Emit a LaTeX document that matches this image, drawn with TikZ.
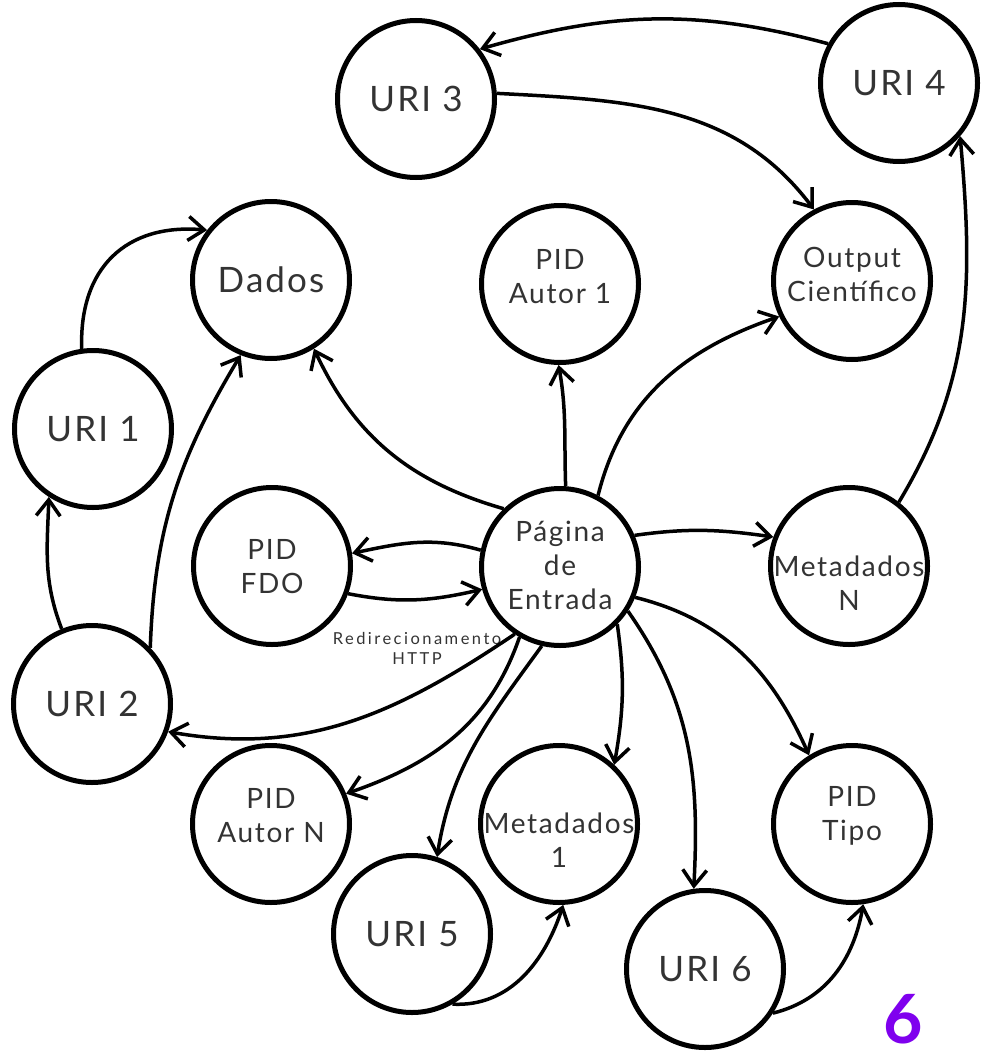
\documentclass[tikz,border=0pt]{standalone}
\usepackage{fontspec}
\setmainfont{Lato}[LetterSpace=6]
\newfontfamily\redirfont{Lato}[LetterSpace=15]
\usetikzlibrary{arrows.meta}
\definecolor{txtgray}{HTML}{333333}
\definecolor{purp}{HTML}{7F00EE}
\begin{document}
\begin{tikzpicture}[x=1pt,y=1pt,
  circ/.style={circle,draw=black,line width=5pt,minimum size=157pt,inner sep=0pt},
  big/.style={text=txtgray,font=\fontsize{35}{42}\selectfont},
  small/.style={text=txtgray,align=center,font=\fontsize{28}{34}\selectfont},
  link/.style={line width=3.5pt,-{Straight Barb[length=16pt,width=24pt]}}
]
\useasboundingbox (0,0) rectangle (980,-1052);
% circles
\node[circ] (uri3) at (416,-99) {};
\node[circ] (uri4) at (899,-83) {};
\node[circ] (dados) at (271,-280) {};
\node[circ] (pa1) at (560,-284) {};
\node[circ] (out) at (852,-281) {};
\node[circ] (uri1) at (93,-429) {};
\node[circ] (fdo) at (272,-566) {};
\node[circ] (pag) at (560,-567) {};
\node[circ] (metN) at (849,-566) {};
\node[circ] (uri2) at (92,-704) {};
\node[circ] (paN) at (271,-824) {};
\node[circ] (met1) at (559,-824) {};
\node[circ] (tipo) at (852,-824) {};
\node[circ] (uri5) at (412,-934) {};
\node[circ] (uri6) at (705,-969) {};
% texts
\node[big] (uri3t) at (uri3) {URI 3};
\node[big] (uri4t) at (uri4) {URI 4};
\node[big] (dadost) at (dados) {Dados};
\node[small] (pa1t) at ([yshift=7pt]pa1.center) {PID\\Autor 1};
\node[small] (outt) at ([yshift=7pt]out.center) {Output\\Científico};
\node[big] (uri1t) at (uri1) {URI 1};
\node[small] (fdot) at ([yshift=-1pt]fdo.center) {PID\\FDO};
\node[small] (pagt) at ([yshift=2pt]pag.center) {Página\\de\\Entrada};
\node[small] (metNt) at ([yshift=-17pt]metN.center) {Metadados\\N};
\node[big] (uri2t) at (uri2) {URI 2};
\node[small] (paNt) at ([yshift=8pt]paN.center) {PID\\Autor N};
\node[small] (met1t) at ([yshift=-16pt]met1.center) {Metadados\\1};
\node[small] (tipot) at ([yshift=8pt]tipo.center) {PID\\Tipo};
\node[big] (uri5t) at (uri5) {URI 5};
\node[big] (uri6t) at (uri6) {URI 6};
\node[text=txtgray,align=center,inner sep=0pt,font=\redirfont\fontsize{16.5}{20}\selectfont] (redir) at (417,-648) {Redirecionamento\\HTTP};
\node[text=purp,inner sep=0pt,font=\fontsize{68}{68}\selectfont\bfseries] (six) at (903,-1019) {6};
% connectors
\draw[link] (uri4.151) to[out=165,in=16] (uri3.38);
\draw[link] (uri3.4) to[out=-3,in=127] (out.118);
\draw[link] (metN.52) to[out=59,in=-85] (uri4.-41);
\draw[link] (pag.62) to[out=76,in=199] (out.206);
\draw[link] (pag.86) to[out=92,in=-80] (pa1.269);
\draw[link] (pag.134) to[out=164,in=-65] (dados.302);
\draw[link] (uri1.98) to[out=92,in=175,looseness=1.2] (dados.142);
\draw[link] (uri2.112) to[out=111,in=-92] (uri1.237);
\draw[link] (uri2.44) to[out=88,in=239] (dados.248);
\draw[link] (pag.168) to[out=164,in=12] (fdo.9);
\draw[link] (fdo.-20) to[out=-11,in=193] (pag.196);
\draw[link] (pag.236) to[out=214,in=-10] (uri2.-20);
\draw[link] (pag.240) to[out=251,in=19] (paN.22);
\draw[link] (pag.257) to[out=234,in=81] (uri5.72);
\draw[link] (pag.-45) to[out=-82,in=80] (met1.47);
\draw[link] (pag.-33) to[out=-55,in=87] (uri6.98);
\draw[link] (pag.-22) to[out=-14,in=114] (tipo.122);
\draw[link] (pag.23) to[out=8,in=172] (metN.159);
\draw[link] (uri5.-60) to[out=-3,in=-108] (met1.-87);
\draw[link] (uri6.-33) to[out=14,in=-100] (tipo.-82);
\end{tikzpicture}
\end{document}
